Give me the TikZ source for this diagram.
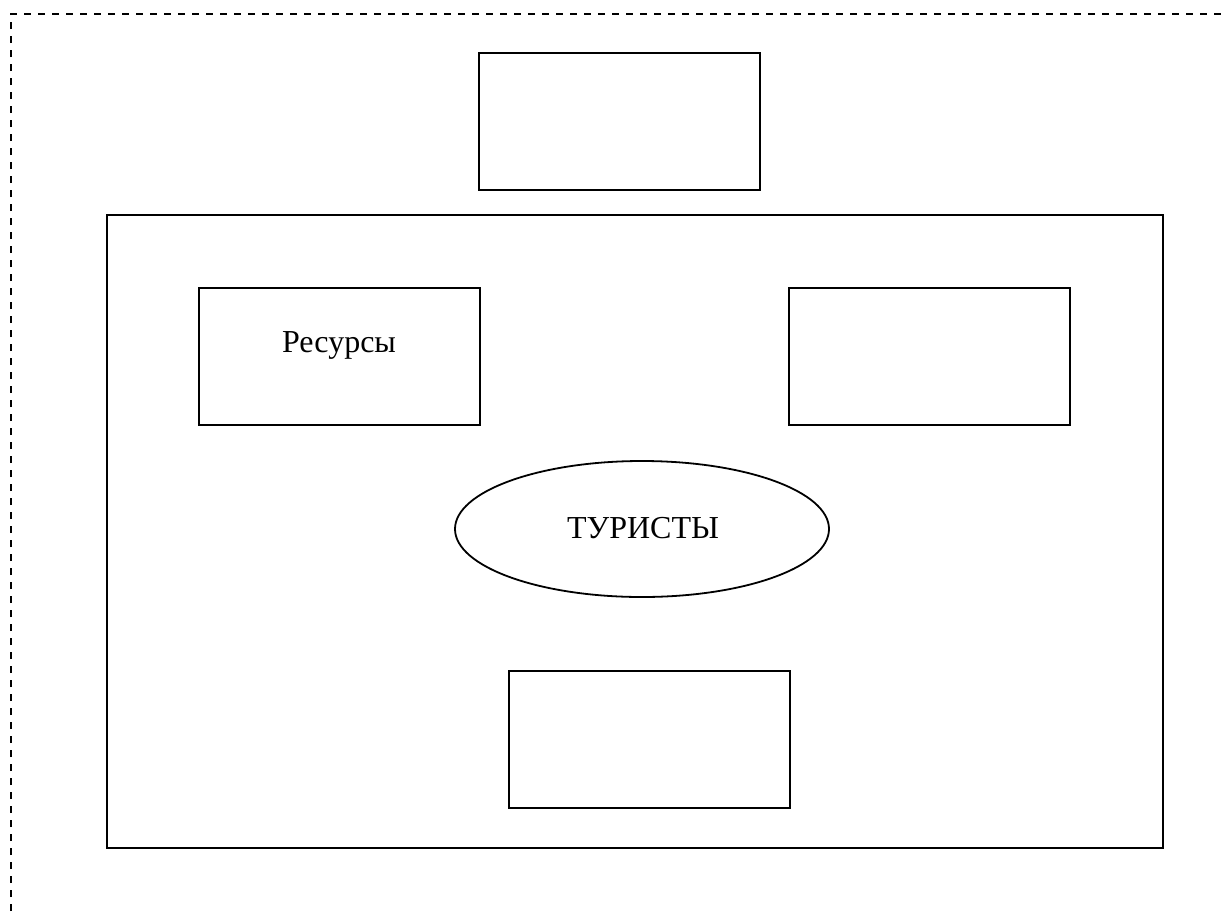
\documentclass[tikz,border=0pt]{standalone}
\usepackage{fontspec}
\setmainfont{Liberation Serif}
\usetikzlibrary{shapes.geometric}
\begin{document}
\begin{tikzpicture}[x=1pt,y=-1pt,
  box/.style={draw, line width=1.8pt, inner sep=0pt, minimum width=281pt, minimum height=137pt},
  lbl/.style={font=\fontsize{32}{36}\selectfont, inner sep=0pt, anchor=base}]
\useasboundingbox (0,0) rectangle (1225,911);
\draw[line width=1.8pt, dash pattern=on 7pt off 7pt] (11,911) -- (11,14) -- (1225,14);
\node[box] (top) at (619.5,121.5) {};
\node[draw, line width=1.8pt, inner sep=0pt, minimum width=1056pt, minimum height=633pt] (frame) at (635,531.5) {};
\node[box] (res) at (339.5,356.5) {};
\node[box] (right) at (929.5,356.5) {};
\node[box] (bottom) at (649.5,739.5) {};
\node[draw, ellipse, line width=1.8pt, inner sep=0pt, minimum width=374pt, minimum height=136pt] (tour) at (642,529) {};
\node[lbl] (restext) at (339,352) {Ресурсы};
\node[lbl] (tourtext) at (643,538) {ТУРИСТЫ};
\end{tikzpicture}
\end{document}
